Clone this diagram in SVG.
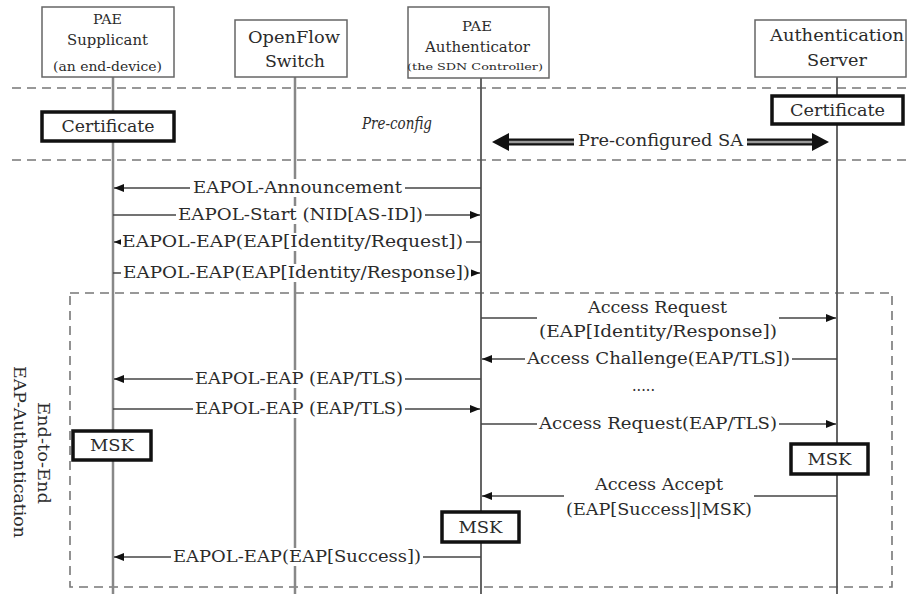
<svg xmlns="http://www.w3.org/2000/svg" width="907" height="594" viewBox="0 0 907 594">
<style>
text{font-family:"DejaVu Serif","Liberation Serif",serif;fill:#2b2b2b;text-anchor:middle}
.m{font-size:17px}
.box{fill:#fff;stroke:#666;stroke-width:1.5}
.bold{fill:#fff;stroke:#111;stroke-width:3.5}
.dash{fill:none;stroke:#777;stroke-width:1.6;stroke-dasharray:9,6}
.life{stroke:#888;stroke-width:2.5}
.life2{stroke:#555;stroke-width:1.8}
.msg{stroke:#444;stroke-width:1.5;fill:none;marker-end:url(#ah)}
.bg{fill:#fff}
</style>
<defs>
<marker id="ah" viewBox="0 0 10 8" refX="10" refY="4" markerWidth="10" markerHeight="8" markerUnits="userSpaceOnUse" orient="auto"><path d="M0,0 L10,4 L0,8 z" fill="#111"/></marker>
</defs>
<rect width="907" height="594" fill="#fff"/>
<g id="separators">
<line class="dash" x1="12" y1="88" x2="907" y2="88"/>
<line class="dash" x1="12" y1="160" x2="907" y2="160"/>
<rect class="dash" x="70" y="293" width="822" height="294"/>
</g>
<g id="lifelines">
<line class="life" x1="113" y1="77" x2="113" y2="594"/>
<line class="life" x1="295" y1="77" x2="295" y2="594"/>
<line class="life2" x1="481" y1="77" x2="481" y2="594"/>
<line class="life2" x1="837" y1="77" x2="837" y2="594"/>
</g>
<g id="region-label">
<text class="m" transform="translate(38,453) rotate(90)" textLength="102" lengthAdjust="spacingAndGlyphs">End-to-End</text>
<text class="m" transform="translate(14,452) rotate(90)" textLength="172" lengthAdjust="spacingAndGlyphs">EAP-Authentication</text>
</g>
<g id="connectors">
<path class="msg" d="M481,188 H114"/>
<path class="msg" d="M113,215 H480"/>
<path class="msg" d="M481,242 H114"/>
<path class="msg" d="M113,273 H480"/>
<path class="msg" d="M481,318 H836"/>
<path class="msg" d="M837,359 H482"/>
<path class="msg" d="M481,379 H114"/>
<path class="msg" d="M113,409 H480"/>
<path class="msg" d="M481,424 H836"/>
<path class="msg" d="M837,496 H482"/>
<path class="msg" d="M481,557 H114"/>
<g id="preconfigured-sa">
<path d="M506,142 H815" stroke="#111" stroke-width="7"/>
<path d="M506,142 H815" stroke="#999" stroke-width="2.5"/>
<polygon points="492,142 509,133 509,151" fill="#111"/>
<polygon points="829,142 812,133 812,151" fill="#111"/>
</g>
</g>
<g id="labels">
<rect class="bg" x="190" y="179" width="215" height="18"/>
<text class="m" x="297.5" y="193" textLength="209" lengthAdjust="spacingAndGlyphs">EAPOL-Announcement</text>
<rect class="bg" x="176" y="206" width="249" height="18"/>
<text class="m" x="300.5" y="220" textLength="245" lengthAdjust="spacingAndGlyphs">EAPOL-Start (NID[AS-ID])</text>
<rect class="bg" x="121" y="233" width="345" height="18"/>
<text class="m" x="292.5" y="247" textLength="341" lengthAdjust="spacingAndGlyphs">EAPOL-EAP(EAP[Identity/Request])</text>
<rect class="bg" x="121" y="264" width="350" height="18"/>
<text class="m" x="296.5" y="278" textLength="347" lengthAdjust="spacingAndGlyphs">EAPOL-EAP(EAP[Identity/Response])</text>
<rect class="bg" x="537" y="299" width="242" height="43"/>
<text class="m" x="657.5" y="313" textLength="139" lengthAdjust="spacingAndGlyphs">Access Request</text>
<text class="m" x="658" y="337" textLength="238" lengthAdjust="spacingAndGlyphs">(EAP[Identity/Response])</text>
<rect class="bg" x="525" y="350" width="267" height="18"/>
<text class="m" x="658.5" y="364" textLength="263" lengthAdjust="spacingAndGlyphs">Access Challenge(EAP/TLS])</text>
<text class="m" x="643.5" y="391" textLength="23" lengthAdjust="spacingAndGlyphs">.....</text>
<rect class="bg" x="193" y="370" width="212" height="18"/>
<text class="m" x="299" y="384" textLength="208" lengthAdjust="spacingAndGlyphs">EAPOL-EAP (EAP/TLS)</text>
<rect class="bg" x="193" y="400" width="212" height="18"/>
<text class="m" x="299" y="414" textLength="208" lengthAdjust="spacingAndGlyphs">EAPOL-EAP (EAP/TLS)</text>
<rect class="bg" x="537" y="415" width="242" height="18"/>
<text class="m" x="658" y="429" textLength="238" lengthAdjust="spacingAndGlyphs">Access Request(EAP/TLS)</text>
<rect class="bg" x="564" y="476" width="190" height="44"/>
<text class="m" x="659" y="490" textLength="128" lengthAdjust="spacingAndGlyphs">Access Accept</text>
<text class="m" x="659" y="515" textLength="186" lengthAdjust="spacingAndGlyphs">(EAP[Success]|MSK)</text>
<rect class="bg" x="171" y="548" width="252" height="18"/>
<text class="m" x="297" y="562" textLength="248" lengthAdjust="spacingAndGlyphs">EAPOL-EAP(EAP[Success])</text>
<rect class="bg" x="574" y="132" width="173" height="19"/>
<text class="m" x="660.5" y="146" textLength="165" lengthAdjust="spacingAndGlyphs">Pre-configured SA</text>
<text x="362" y="129" style="font-size:17px;font-style:italic;text-anchor:start" textLength="70" lengthAdjust="spacingAndGlyphs">Pre-config</text>
</g>
<g id="node-supplicant">
<rect class="box" x="42" y="7" width="132" height="70"/>
<text x="107.5" y="24" style="font-size:12px" textLength="29" lengthAdjust="spacingAndGlyphs">PAE</text>
<text x="107.5" y="45" style="font-size:15px" textLength="81" lengthAdjust="spacingAndGlyphs">Supplicant</text>
<text x="107.5" y="71" style="font-size:12px" textLength="109" lengthAdjust="spacingAndGlyphs">(an end-device)</text>
</g>
<g id="node-switch">
<rect class="box" x="235" y="20" width="112" height="57"/>
<text x="294" y="43" style="font-size:17px" textLength="92" lengthAdjust="spacingAndGlyphs">OpenFlow</text>
<text x="295" y="67" style="font-size:17px" textLength="60" lengthAdjust="spacingAndGlyphs">Switch</text>
</g>
<g id="node-authenticator">
<rect class="box" x="408" y="7" width="141" height="71"/>
<text x="477" y="31" style="font-size:13px" textLength="30" lengthAdjust="spacingAndGlyphs">PAE</text>
<text x="477.5" y="52" style="font-size:15px" textLength="105" lengthAdjust="spacingAndGlyphs">Authenticator</text>
<text x="475" y="70" style="font-size:10px" textLength="136" lengthAdjust="spacingAndGlyphs">(the SDN Controller)</text>
</g>
<g id="node-server">
<rect class="box" x="755" y="20" width="151" height="57"/>
<text x="837" y="41" style="font-size:17px" textLength="134" lengthAdjust="spacingAndGlyphs">Authentication</text>
<text x="837" y="66" style="font-size:17px" textLength="60" lengthAdjust="spacingAndGlyphs">Server</text>
</g>
<g id="cert-supplicant">
<rect class="bold" x="42" y="112" width="132" height="29"/>
<text x="108" y="132" style="font-size:17px" textLength="93" lengthAdjust="spacingAndGlyphs">Certificate</text>
</g>
<g id="cert-server">
<rect class="bold" x="772" y="96" width="131" height="28"/>
<text x="837.5" y="116" style="font-size:17px" textLength="95" lengthAdjust="spacingAndGlyphs">Certificate</text>
</g>
<g id="msk-supplicant">
<rect class="bold" x="73" y="431" width="78" height="29"/>
<text x="112" y="451" style="font-size:16px" textLength="44" lengthAdjust="spacingAndGlyphs">MSK</text>
</g>
<g id="msk-server">
<rect class="bold" x="791" y="444" width="77" height="30"/>
<text x="829.5" y="465" style="font-size:16px" textLength="44" lengthAdjust="spacingAndGlyphs">MSK</text>
</g>
<g id="msk-authenticator">
<rect class="bold" x="442" y="512" width="77" height="30"/>
<text x="480.5" y="533" style="font-size:16px" textLength="44" lengthAdjust="spacingAndGlyphs">MSK</text>
</g>
</svg>
